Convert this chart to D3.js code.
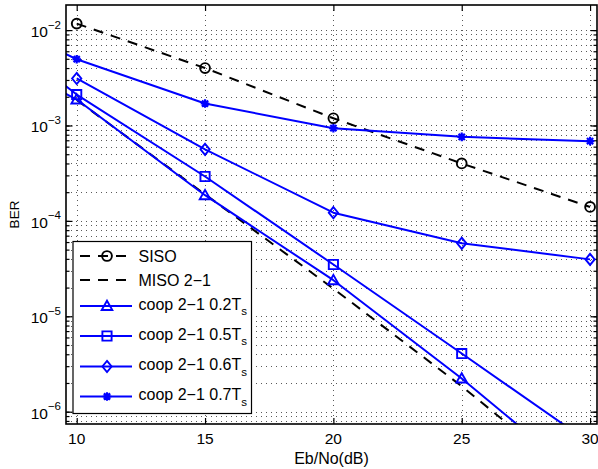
<!DOCTYPE html>
<html>
<head>
<meta charset="utf-8">
<script src="https://cdn.jsdelivr.net/npm/d3@7/dist/d3.min.js"></script>
<style>
  html, body { margin: 0; padding: 0; background: #fff; }
  svg { display: block; }
  text { font-family: "Liberation Sans", Arial, Helvetica, sans-serif; fill: #000; }
</style>
</head>
<body>
<script>
// ---- data ----
const snr = [10, 15, 20, 25, 30];
const snrCoop = [5, 10, 15, 20, 25, 30];
const berSISO = [1.17e-2, 4.0e-3, 1.19e-3, 4.0e-4, 1.40e-4];
const berMISO = [1.85e-3, 1.9e-4, 1.95e-5, 1.85e-6, 1.47e-7];
const berCoop02 = [9.5e-3, 1.87e-3, 1.86e-4, 2.39e-5, 2.23e-6, 1.71e-7];
const berCoop05 = [2.37e-2, 2.11e-3, 2.92e-4, 3.49e-5, 4.07e-6, 4.7e-7];
const berCoop06 = [3.11e-3, 5.62e-4, 1.22e-4, 5.82e-5, 3.95e-5];
const berCoop07 = [2.12e-2, 4.95e-3, 1.70e-3, 9.37e-4, 7.6e-4, 6.85e-4];
const xTickValues = [10, 15, 20, 25, 30];
const yTickExponents = [-2, -3, -4, -5, -6];
const seriesNames = ["SISO", "MISO 2\u22121", "coop 2\u22121 0.2T", "coop 2\u22121 0.5T", "coop 2\u22121 0.6T", "coop 2\u22121 0.7T"];

// ---- layout ----
const W = 598, H = 469;
const box = { left: 66, right: 597, top: 5, bottom: 424 };
const BLUE = "#0000ff";

const svg = d3.select("body").append("svg").attr("width", W).attr("height", H);

const x = d3.scaleLinear().domain([9.583, 30.27]).range([box.left, box.right]);
const y = d3.scaleLog().domain([Math.pow(10, -6.129), Math.pow(10, -1.737)]).range([box.bottom, box.top]);

svg.append("defs").append("clipPath").attr("id", "plotclip")
  .append("rect").attr("x", box.left).attr("y", box.top)
  .attr("width", box.right - box.left).attr("height", box.bottom - box.top);

// ---- grid (dotted, major + log minor) ----
const minorY = [];
for (let e = -7; e <= -1; e++) for (let k = 1; k <= 9; k++) {
  const v = k * Math.pow(10, e);
  if (v >= y.domain()[0] && v <= y.domain()[1]) minorY.push(v);
}
const grid = svg.append("g").attr("stroke", "#000").attr("stroke-opacity", 0.65)
  .attr("stroke-width", 1).attr("stroke-dasharray", "1,4").attr("fill", "none");
grid.selectAll("line.gy").data(minorY).join("line").attr("class", "gy")
  .attr("x1", box.left).attr("x2", box.right)
  .attr("y1", d => Math.round(y(d)) + 0.5).attr("y2", d => Math.round(y(d)) + 0.5);
grid.selectAll("line.gx").data(xTickValues).join("line").attr("class", "gx")
  .attr("x1", d => Math.round(x(d)) + 0.5).attr("x2", d => Math.round(x(d)) + 0.5)
  .attr("y1", box.top).attr("y2", box.bottom);

// ---- axes with inward ticks (d3 axes, negative tick sizes) ----
const majorY = yTickExponents.map(e => Math.pow(10, e));
const axisStyle = g => {
  g.select(".domain").remove();
  g.selectAll(".tick line").attr("stroke", "#000").attr("stroke-width", 1.2);
  g.selectAll(".tick text").remove();
};
svg.append("g").attr("transform", `translate(0,${box.bottom})`)
  .call(d3.axisBottom(x).tickValues(xTickValues).tickSizeInner(-6).tickSizeOuter(0)).call(axisStyle);
svg.append("g").attr("transform", `translate(0,${box.top})`)
  .call(d3.axisTop(x).tickValues(xTickValues).tickSizeInner(-6).tickSizeOuter(0)).call(axisStyle);
svg.append("g").attr("transform", `translate(${box.left},0)`)
  .call(d3.axisLeft(y).tickValues(minorY).tickSizeInner(-3.5).tickSizeOuter(0)).call(axisStyle);
svg.append("g").attr("transform", `translate(${box.right},0)`)
  .call(d3.axisRight(y).tickValues(minorY).tickSizeInner(-3.5).tickSizeOuter(0)).call(axisStyle);
svg.append("g").attr("transform", `translate(${box.left},0)`)
  .call(d3.axisLeft(y).tickValues(majorY).tickSizeInner(-6.5).tickSizeOuter(0)).call(axisStyle);
svg.append("g").attr("transform", `translate(${box.right},0)`)
  .call(d3.axisRight(y).tickValues(majorY).tickSizeInner(-6.5).tickSizeOuter(0)).call(axisStyle);

// tick labels
svg.append("g").selectAll("text").data(xTickValues).join("text")
  .attr("x", d => x(d)).attr("y", 443.5).attr("text-anchor", "middle")
  .attr("font-size", 15.5).text(d => d);
const yl = svg.append("g").selectAll("text").data(yTickExponents).join("text")
  .attr("x", 61).attr("y", d => y(Math.pow(10, d)) + 7).attr("text-anchor", "end")
  .attr("font-size", 15.5);
yl.append("tspan").text("10");
yl.append("tspan").attr("dy", -8.5).attr("font-size", 11.5).text(d => "\u2212" + Math.abs(d));

// axis titles
svg.append("text").attr("x", (box.left + box.right) / 2).attr("y", 464)
  .attr("text-anchor", "middle").attr("font-size", 16).text("Eb/No(dB)");
svg.append("text").attr("transform", `translate(18.5,${(box.top + box.bottom) / 2}) rotate(-90)`)
  .attr("text-anchor", "middle").attr("font-size", 13.5).text("BER");

// ---- markers ----
function markerPath(type) {
  switch (type) {
    case "circle": return d3.symbol(d3.symbolCircle, 75)();
    case "triangle": return "M0,-5.3L5.3,4L-5.3,4Z";
    case "square": return "M-4.6,-4.6H4.6V4.6H-4.6Z";
    case "diamond": return "M0,-5.6L4.6,0L0,5.6L-4.6,0Z";
    case "star": return "M-4.3,0H4.3M0,-4.3V4.3M-3.1,-3.1L3.1,3.1M-3.1,3.1L3.1,-3.1";
    default: return null;
  }
}

const series = [
  { name: seriesNames[0], xs: snr, ys: berSISO, color: "#000", dash: "10,8", marker: "circle" },
  { name: seriesNames[1], xs: snr, ys: berMISO, color: "#000", dash: "10,8", marker: null },
  { name: seriesNames[2], xs: snrCoop, ys: berCoop02, color: BLUE, dash: null, marker: "triangle", sub: "s" },
  { name: seriesNames[3], xs: snrCoop, ys: berCoop05, color: BLUE, dash: null, marker: "square", sub: "s" },
  { name: seriesNames[4], xs: snr, ys: berCoop06, color: BLUE, dash: null, marker: "diamond", sub: "s" },
  { name: seriesNames[5], xs: snrCoop, ys: berCoop07, color: BLUE, dash: null, marker: "star", sub: "s" }
];

const plot = svg.append("g").attr("clip-path", "url(#plotclip)");
const line = d3.line().x(d => x(d[0])).y(d => y(d[1]));
series.forEach(s => {
  const pts = s.xs.map((v, i) => [v, s.ys[i]]);
  plot.append("path").datum(pts).attr("d", line)
    .attr("fill", "none").attr("stroke", s.color).attr("stroke-width", 2)
    .attr("stroke-dasharray", s.dash).attr("stroke-linejoin", "round");
  if (s.marker) {
    plot.selectAll(null).data(pts.filter(p => p[0] >= 10)).join("path")
      .attr("transform", p => `translate(${x(p[0])},${y(p[1])})`)
      .attr("d", markerPath(s.marker))
      .attr("fill", "none").attr("stroke", s.color)
      .attr("stroke-width", s.marker === "star" ? 2.2 : 1.9);
  }
});

// ---- frame ----
svg.append("rect").attr("x", box.left).attr("y", box.top)
  .attr("width", box.right - box.left).attr("height", box.bottom - box.top)
  .attr("fill", "none").attr("stroke", "#000").attr("stroke-width", 1.6);

// ---- legend ----
const lg = svg.append("g");
lg.append("rect").attr("x", 73).attr("y", 241.5).attr("width", 178.5).attr("height", 172)
  .attr("fill", "#fff").attr("stroke", "#000").attr("stroke-width", 1.2);
const rowY = [256, 280, 306, 336, 366.5, 396.5];
series.forEach((s, i) => {
  const ry = rowY[i];
  lg.append("line").attr("x1", 80).attr("x2", 132).attr("y1", ry).attr("y2", ry)
    .attr("stroke", s.color).attr("stroke-width", 2).attr("stroke-dasharray", s.dash);
  if (s.marker) {
    lg.append("path").attr("transform", `translate(107,${ry})`).attr("d", markerPath(s.marker))
      .attr("fill", "none").attr("stroke", s.color)
      .attr("stroke-width", s.marker === "star" ? 2.2 : 1.9);
  }
  const t = lg.append("text").attr("x", 138.5).attr("font-size", 16)
    .attr("y", s.sub ? ry + 3.5 : ry + 5.5);
  t.append("tspan").text(s.name);
  if (s.sub) t.append("tspan").attr("dy", 5.5).attr("font-size", 11.5).text(s.sub);
});
</script>
</body>
</html>
